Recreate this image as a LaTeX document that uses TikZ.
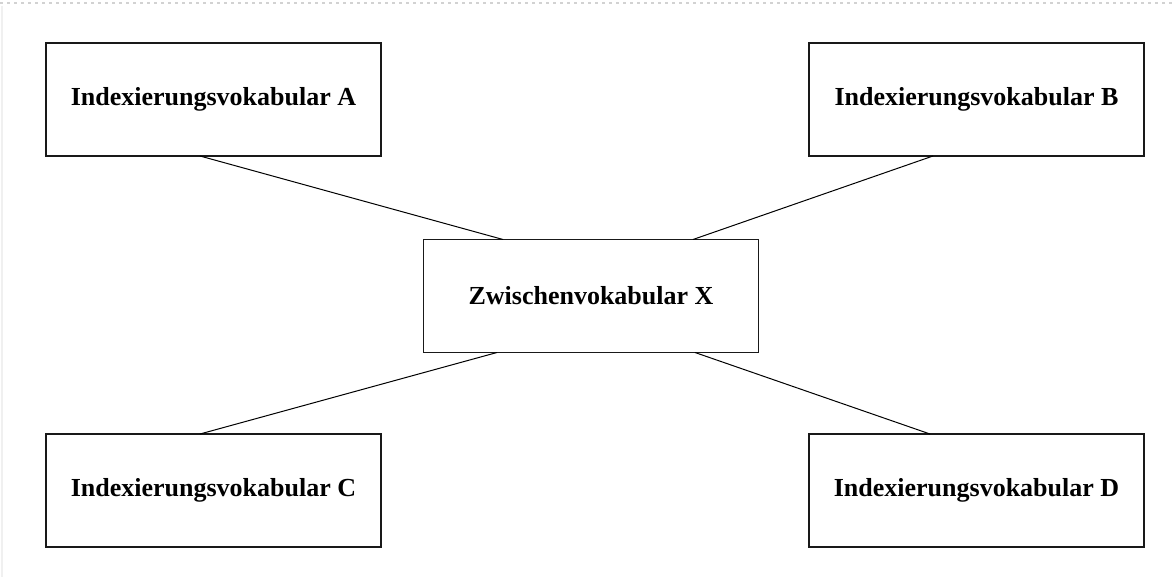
\documentclass[tikz,border=0pt]{standalone}
\usepackage{fontspec}
\setmainfont{Liberation Serif}
\begin{document}
\begin{tikzpicture}[x=1pt,y=-1pt,
  box/.style={draw=black!90, line width=1.5pt, rectangle, minimum width=335pt, minimum height=113pt, inner sep=0pt, outer sep=0pt, font=\fontsize{26}{31}\selectfont\bfseries},
  link/.style={draw=black, line width=1pt}]
\useasboundingbox (0,0) rectangle (1173,577);
\fill[white] (0,0) rectangle (1173,577);
\draw[gray!35, line width=1.5pt, dash pattern=on 3pt off 4pt] (0,3) -- (1173,3);
\draw[gray!12, line width=1.5pt] (2,6) -- (2,577);
\node[box] (A) at (213.5,99.5) {Indexierungsvokabular A};
\node[box] (B) at (976.5,99.5) {Indexierungsvokabular B};
\node[box] (X) at (591,296) {Zwischenvokabular X};
\node[box] (C) at (213.5,490.5) {Indexierungsvokabular C};
\node[box] (D) at (976.5,490.5) {Indexierungsvokabular D};
\draw[link] ([xshift=-13.5pt]A.south) -- ([xshift=-88pt]X.north);
\draw[link] ([xshift=-43.5pt]B.south) -- ([xshift=102pt]X.north);
\draw[link] ([xshift=-94pt]X.south) -- ([xshift=-13.5pt]C.north);
\draw[link] ([xshift=104pt]X.south) -- ([xshift=-46.5pt]D.north);
\end{tikzpicture}
\end{document}
